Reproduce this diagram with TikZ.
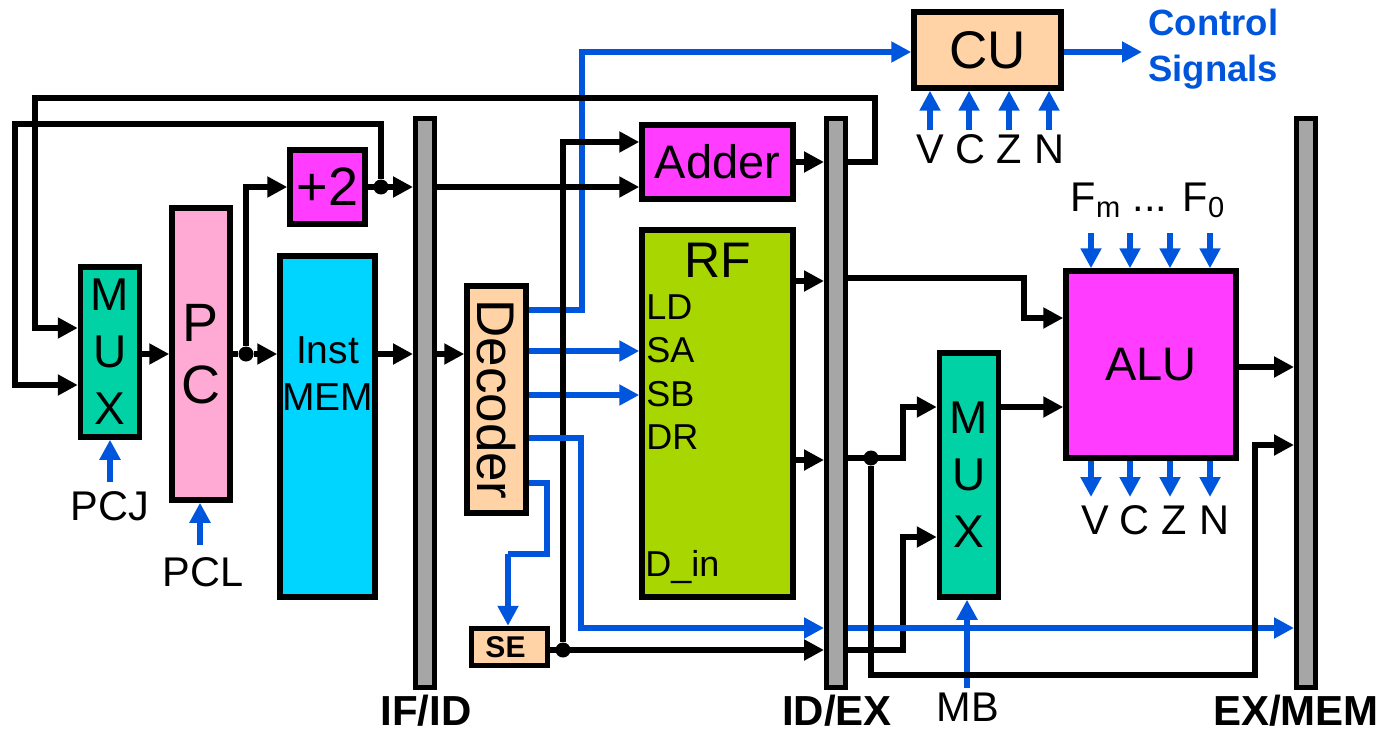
\documentclass[tikz,border=0pt]{standalone}
\usepackage{fontspec}
\setmainfont{Liberation Sans}
\usetikzlibrary{arrows.meta,positioning}
\definecolor{muxGreen}{RGB}{0,210,165}
\definecolor{pcPink}{RGB}{255,170,213}
\definecolor{addMagenta}{RGB}{255,60,255}
\definecolor{memCyan}{RGB}{0,213,255}
\definecolor{rfGreen}{RGB}{168,214,0}
\definecolor{decPeach}{RGB}{255,211,165}
\definecolor{barGray}{RGB}{166,166,166}
\definecolor{ctlBlue}{RGB}{0,85,221}
\newcommand{\fsz}[2]{\fontsize{#1}{#2}\selectfont}

\begin{document}
\begin{tikzpicture}[
    x=0.5pt, y=-0.5pt,
    blk/.style={draw=black, line width=2.75pt, inner sep=0pt, align=center},
    bar/.style={blk, fill=barGray, line width=2.5pt, minimum width=9.5pt, minimum height=284pt},
    mux/.style={blk, fill=muxGreen, font=\fsz{23}{28.5}, minimum width=29.5pt},
    func/.style={blk, fill=addMagenta},
    peach/.style={blk, fill=decPeach},
    bus/.style={draw=black, line width=2.9pt, -{Triangle[length=10pt,width=10pt]}},
    wire/.style={draw=black, line width=2.9pt},
    ctl/.style={draw=ctlBlue, line width=3.2pt, -{Triangle[length=10pt,width=10pt]}},
    ctlwire/.style={draw=ctlBlue, line width=3.2pt},
    dot/.style={circle, fill=black, inner sep=0pt, minimum size=7.5pt},
    lab/.style={inner sep=0pt, font=\fsz{20.75}{24}},
    rfpin/.style={inner sep=0pt, anchor=west, font=\fsz{18}{20}},
    stage/.style={inner sep=0pt, font=\fsz{21}{24}\bfseries},
  ]
  \useasboundingbox (0,0) rectangle (1380,733);

  % pipeline registers
  \node[bar] (ifid) at (425,403) {};
  \node[bar] (idex) at (836,403) {};
  \node[bar] (exmem) at (1306,403) {};
  \node[stage] (ifidlab) at (426,711) {IF/ID};
  \node[stage] (idexlab) at (837,711) {ID/EX};
  \node[stage] (exmemlab) at (1296,711) {EX/MEM};

  % blocks
  \node[mux, minimum height=85pt] (muxa) at (110,352) {M\\U\\X};
  \node[blk, fill=pcPink, font=\fsz{27}{31}, minimum width=29pt, minimum height=146pt] (pc) at (201,354) {P\\C};
  \node[func, font=\fsz{27}{30}, minimum width=37.5pt, minimum height=37pt] (plustwo) at (327.5,187) {+2};
  \node[blk, fill=memCyan, minimum width=47.5pt, minimum height=170.5pt] (imem) at (327.5,426.5) {};
  \node[inner sep=0pt, align=center, font=\fsz{19.5}{23.5}] (imemlab) at (327.5,374) {Inst\\MEM};
  \node[peach, font=\fsz{26.5}{30}, minimum width=29.5pt, minimum height=113.5pt] (dec) at (496.5,399.5) {\rotatebox{-90}{Decoder}};
  \node[peach, font=\fsz{15}{18}\bfseries, minimum width=38pt, minimum height=18.5pt] (se) at (509.5,647) {SE\hspace{4pt}};
  \node[func, font=\fsz{23.5}{28}, minimum width=75.5pt, minimum height=37pt] (adder) at (717.5,162) {Adder};
  \node[blk, fill=rfGreen, minimum width=75.5pt, minimum height=183.5pt] (rf) at (717.5,413.5) {};
  \node[inner sep=0pt, font=\fsz{25}{30}] (rftitle) at (718,260) {RF};
  \node[rfpin] (ld) at (646,307) {LD};
  \node[rfpin] (sa) at (646,350) {SA};
  \node[rfpin] (sb) at (646,394) {SB};
  \node[rfpin] (dr) at (646,437) {DR};
  \node[rfpin] (din) at (645,567) {D\_in};
  \node[peach, font=\fsz{26.5}{30}, minimum width=73.5pt, minimum height=38pt] (cu) at (987.5,50) {CU};
  \node[mux, minimum height=122pt] (muxb) at (969,475) {M\\U\\X};
  \node[func, font=\fsz{23.5}{28}, minimum width=85pt, minimum height=93.5pt] (alu) at (1151,364.5) {ALU};

  % text beside the control arrows
  \node[lab] (pcj) at (110,506) {PCJ};
  \node[lab] (pcl) at (203,572) {PCL};
  \node[lab] (mb) at (968,707) {MB};
  \node[lab] (cuv) at (930,149) {V};
  \node[lab] (cuc) at (970,149) {C};
  \node[lab] (cuz) at (1009,149) {Z};
  \node[lab] (cun) at (1049,149) {N};
  \node[lab] (aluv) at (1095,520) {V};
  \node[lab] (aluc) at (1134,520) {C};
  \node[lab] (aluz) at (1174,520) {Z};
  \node[lab] (alun) at (1214,520) {N};
  \node[lab] (flags) at (1148,200) {F\textsubscript{m} ... F\textsubscript{0}};
  \node[inner sep=0pt, align=left, text=ctlBlue, font=\fsz{18.25}{23}\bfseries, anchor=west] (sigs) at (1148,49) {Control\\Signals};

  % control lines under the black wires
  \draw[ctl] (dec.east |- 0,310) -| (582,52) -- (cu.west |- 0,52);
  \draw[ctl] (dec.east |- 0,351) -- (rf.west |- 0,351);
  \draw[ctl] (dec.east |- 0,395) -- (rf.west |- 0,395);
  \coordinate (sigend) at (1142,52);
  \draw[ctl] (cu.east |- sigend) -- (sigend);
  \coordinate (sejog) at (547,554);
  \draw[ctlwire] (dec.east |- 0,483) -| (sejog) -- (508,554);
  \draw[ctl] (508,554) -- (508,0 |- se.north);
  \draw[ctl] (110,482) -- (110,0 |- muxa.south);
  \draw[ctl] (200,545) -- (200,0 |- pc.south);
  \draw[ctl] (967,688) -- (967,0 |- muxb.south);
  \foreach \px in {930,969,1009,1049}
    \draw[ctl] (\px,130) -- (\px,0 |- cu.south);
  \foreach \px in {1091,1130,1170,1210} {
    \draw[ctl] (\px,233) -- (\px,0 |- alu.north);
    \draw[ctl] (\px,0 |- alu.south) -- (\px,497);
  }

  % wires in the fetch stage
  \draw[bus] (muxa.east |- 0,354) -- (pc.west |- 0,354);
  \node[dot] (jpc) at (246,354) {};
  \draw[wire] (pc.east |- jpc) -- (jpc);
  \draw[bus] (jpc) -- (imem.west |- jpc);
  \draw[bus] (jpc) |- (plustwo.west);
  \draw[bus] (imem.east |- 0,354) -- (ifid.west |- 0,354);
  \draw[bus] (ifid.east |- 0,354) -- (dec.west |- 0,354);
  \node[dot] (jtwo) at (381,187) {};
  \draw[bus] (plustwo.east) -- (ifid.west |- plustwo.east);
  \draw[bus] (jtwo) -- (381,124) -- (15,124) -- (15,385) -- (muxa.west |- 0,385);
  \draw[bus] (ifid.east |- 0,187) -- (adder.west |- 0,187);

  % wires in the decode stage
  \node[dot] (jse) at (563,650) {};
  \draw[bus] (se.east |- jse) -- (idex.west |- jse);
  \draw[bus] (jse) -- (563,142) -- (adder.west |- 0,142);
  \draw[bus] (adder.east) -- (idex.west |- adder.east);
  \draw[bus] (idex.east |- 0,162) -- (875,162) -- (875,98) -- (35,98) -- (35,328) -- (muxa.west |- 0,328);
  \draw[bus] (rf.east |- 0,281) -- (idex.west |- 0,281);
  \draw[bus] (rf.east |- 0,460) -- (idex.west |- 0,460);

  % wires in the execute stage
  \draw[bus] (idex.east |- 0,650) -- (903,650) -- (903,537) -- (muxb.west |- 0,537);
  \draw[ctl] (dec.east |- 0,438) -| (581,628) -- (idex.west |- 0,628);
  \draw[ctl] (idex.east |- 0,628) -- (exmem.west |- 0,628);
  \node[dot] (jrf) at (871,458) {};
  \draw[bus] (idex.east |- jrf) -- (903,458) -- (903,407) -- (muxb.west |- 0,407);
  \draw[bus] (jrf) -- (871,675) -- (1255,675) -- (1255,445) -- (exmem.west |- 0,445);
  \draw[bus] (idex.east |- 0,278) -- (1024,278) -- (1024,318) -- (alu.west |- 0,318);
  \draw[bus] (muxb.east |- 0,407) -- (alu.west |- 0,407);
  \draw[bus] (alu.east |- 0,367) -- (exmem.west |- 0,367);
\end{tikzpicture}
\end{document}
